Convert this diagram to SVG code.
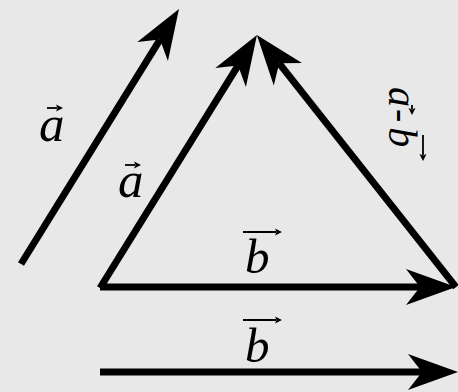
<svg xmlns="http://www.w3.org/2000/svg" width="458" height="392" viewBox="0 0 458 392">
<defs>
<style>
.vec{stroke:#000;stroke-width:7;fill:none;stroke-linecap:butt}
.lbl{font-family:"Liberation Serif","DejaVu Serif",serif;font-style:italic;fill:#000}
.acc{stroke:#000;stroke-width:1.8;fill:none}
</style>
<marker id="head" markerUnits="userSpaceOnUse" markerWidth="50" markerHeight="36" refX="14" refY="18" orient="auto" overflow="visible">
<path d="M50,18 L0,0 L14,18 L0,36 Z" fill="#000"/>
</marker>
<marker id="small" markerUnits="userSpaceOnUse" markerWidth="8" markerHeight="8" refX="1" refY="4" orient="auto" overflow="visible">
<path d="M0,0.5 L7,4 L0,7.5 L1.5,4 Z" fill="#000"/>
</marker>
</defs>
<rect width="458" height="392" fill="#e8e8e8"/>
<g id="connectors">
<line class="vec" x1="21" y1="264" x2="160" y2="39.6" marker-end="url(#head)"/>
<line class="vec" x1="100" y1="288" x2="238" y2="65.6" marker-end="url(#head)"/>
<line class="vec" x1="456" y1="287" x2="279.2" y2="63.3" marker-end="url(#head)"/>
<line class="vec" x1="100" y1="287" x2="420" y2="287" marker-end="url(#head)"/>
<line class="vec" x1="100" y1="372" x2="422" y2="372" marker-end="url(#head)"/>
</g>
<g id="label-a1">
<text class="lbl" x="39" y="141" font-size="51">a</text>
<line class="acc" x1="47" y1="108" x2="57" y2="108" marker-end="url(#small)"/>
</g>
<g id="label-a2">
<text class="lbl" x="118" y="197" font-size="51">a</text>
<line class="acc" x1="125" y1="165" x2="135" y2="165" marker-end="url(#small)"/>
</g>
<g id="label-b1">
<text class="lbl" x="245" y="273" font-size="49">b</text>
<line class="acc" x1="243" y1="232" x2="276" y2="232" marker-end="url(#small)"/>
</g>
<g id="label-b2">
<text class="lbl" x="245" y="362" font-size="49">b</text>
<line class="acc" x1="243" y1="320" x2="276" y2="320" marker-end="url(#small)"/>
</g>
<g id="label-diff" transform="translate(389,85) rotate(90)">
<text class="lbl" x="2" y="0" font-size="40">a<tspan dx="2">-</tspan><tspan dx="5">b</tspan></text>
<line class="acc" x1="20" y1="-23" x2="24" y2="-23" marker-end="url(#small)"/>
<line class="acc" x1="50" y1="-34" x2="70" y2="-34" marker-end="url(#small)"/>
</g>
</svg>
